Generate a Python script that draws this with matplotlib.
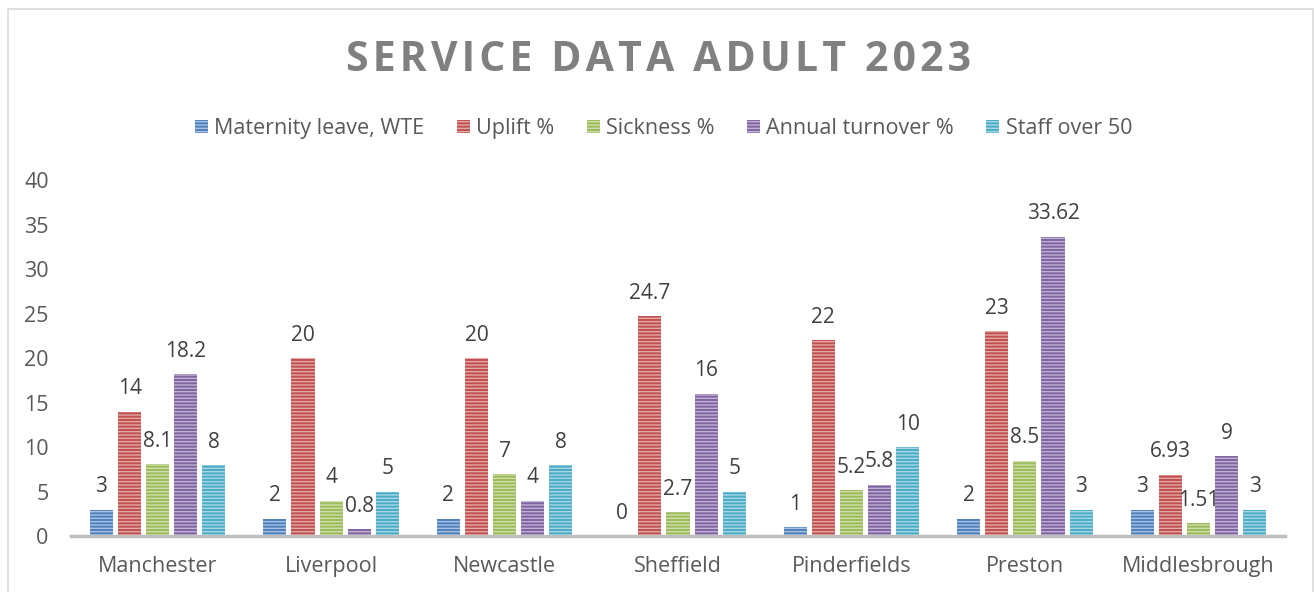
import matplotlib.pyplot as plt
import matplotlib.patches as mpatches
import numpy as np

plt.rcParams['font.family'] = ['Open Sans', 'DejaVu Sans']
plt.rcParams['hatch.linewidth'] = 1.0

# data
sites = ['Manchester', 'Liverpool', 'Newcastle', 'Sheffield', 'Pinderfields', 'Preston', 'Middlesbrough']
series_names = ['Maternity leave, WTE', 'Uplift %', 'Sickness %', 'Annual turnover %', 'Staff over 50']
maternity = [3, 2, 2, 0, 1, 2, 3]
uplift = [14, 20, 20, 24.7, 22, 23, 6.93]
sickness = [8.1, 4, 7, 2.7, 5.2, 8.5, 1.51]
turnover = [18.2, 0.8, 4, 16, 5.8, 33.62, 9]
staff50 = [8, 5, 8, 5, 10, 3, 3]
all_series = [maternity, uplift, sickness, turnover, staff50]

colors = ['#4F81BD', '#C0504D', '#9BBB59', '#8064A2', '#4BACC6']
lights = ['#A9C1E2', '#E4A8A6', '#CDDEAC', '#C0B2D2', '#A8D7E4']
text_col = '#595959'

fig = plt.figure(figsize=(13.14, 5.92), dpi=100)
ax = fig.add_axes([0.054, 0.094, 0.924, 0.602])

x = np.arange(len(sites))
width = 0.133
step = 0.162
for i, (vals, c, lc) in enumerate(zip(all_series, colors, lights)):
    pos = x + (i - 2) * step
    ax.bar(pos, vals, width, color=c, edgecolor=lc, linewidth=0, hatch='-----')
    for p, v in zip(pos, vals):
        ax.annotate(f'{v:g}', (p, v), xytext=(0, 12.5), textcoords='offset points',
                    ha='center', va='baseline', fontsize=15, color='#404040')

ax.set_xlim(-0.5, len(sites) - 0.5)
ax.set_ylim(0, 40)
ax.set_yticks(range(0, 41, 5))
ax.set_xticks(x)
ax.set_xticklabels(sites)
ax.tick_params(axis='both', length=0, labelsize=15.5, labelcolor=text_col)
ax.tick_params(axis='y', pad=16)
ax.tick_params(axis='x', pad=14)
for s in ['top', 'right', 'left']:
    ax.spines[s].set_visible(False)
ax.spines['bottom'].set_color('#BFBFBF')
ax.spines['bottom'].set_linewidth(2.5)

handles = [mpatches.Patch(facecolor=c, edgecolor=lc, linewidth=0, hatch='-----', label=n)
           for n, c, lc in zip(series_names, colors, lights)]
fig.legend(handles=handles, loc='center', bbox_to_anchor=(0.505, 0.783), ncol=5, frameon=False,
           fontsize=15.5, labelcolor=text_col, handlelength=0.6, handleheight=0.6,
           handletextpad=0.3, columnspacing=1.5)

title = '\u200a'.join('SERVICE DATA ADULT 2023')
fig.text(0.501, 0.897, title, ha='center', va='center', fontsize=29.5, fontweight='bold', color='#808080')

# chart border
border = mpatches.Rectangle((8 / 1314, -0.1), (1313 - 8) / 1314, 1.1 - 9 / 592, transform=fig.transFigure,
                            fill=False, edgecolor='#D9D9D9', linewidth=1.2)
fig.patches.append(border)

fig.savefig('out.png', dpi=100)
